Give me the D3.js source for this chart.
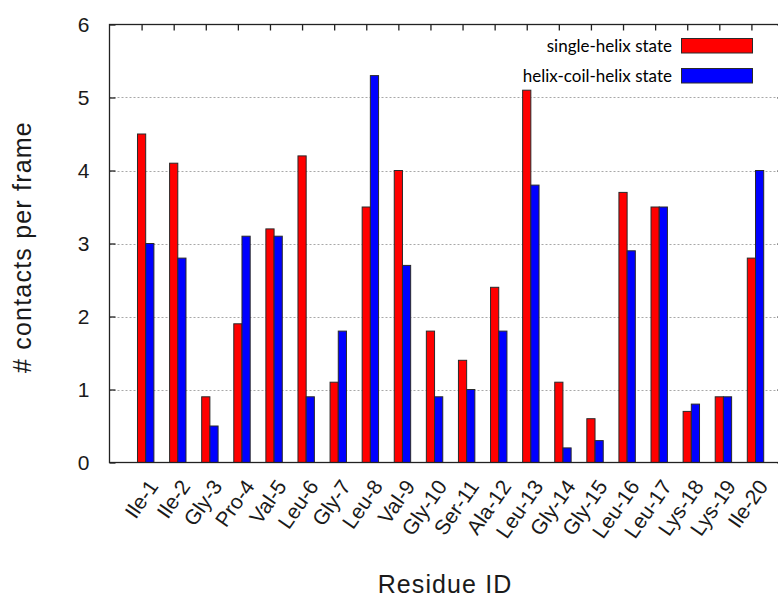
<!DOCTYPE html>
<html>
<head>
<meta charset="utf-8">
<script src="https://cdn.jsdelivr.net/npm/d3@7"></script>
<style>
  html, body { margin: 0; padding: 0; background: #fff; }
  svg { display: block; }
</style>
</head>
<body>
<svg id="chart" width="778" height="598"></svg>
<script>
// Residue contact counts for the two conformational states
const residues = ["Ile-1", "Ile-2", "Gly-3", "Pro-4", "Val-5", "Leu-6", "Gly-7", "Leu-8", "Val-9", "Gly-10",
                  "Ser-11", "Ala-12", "Leu-13", "Gly-14", "Gly-15", "Leu-16", "Leu-17", "Lys-18", "Lys-19", "Ile-20"];
const singleHelix = [4.5, 4.1, 0.9, 1.9, 3.2, 4.2, 1.1, 3.5, 4.0, 1.8, 1.4, 2.4, 5.1, 1.1, 0.6, 3.7, 3.5, 0.7, 0.9, 2.8];
const helixCoilHelix = [3.0, 2.8, 0.5, 3.1, 3.1, 0.9, 1.8, 5.3, 2.7, 0.9, 1.0, 1.8, 3.8, 0.2, 0.3, 2.9, 3.5, 0.8, 0.9, 4.0];
const yTicks = [0, 1, 2, 3, 4, 5, 6];
const seriesNames = ["single-helix state", "helix-coil-helix state"];
const seriesColors = ["#ff0000", "#0000ff"];

const svg = d3.select("#chart");
const plotL = 109.5, plotR = 783.5, plotT = 24.5, plotB = 462.5;

const x = d3.scaleLinear().domain([0, residues.length + 1]).range([plotL, plotR]);
const y = d3.scaleLinear().domain([0, 6]).range([plotB, plotT]);
const barW = 8.2;
const textColor = "#1a1a1a";
const sans = "'Liberation Sans', Arial, sans-serif";

// horizontal dotted grid
svg.append("g")
  .selectAll("line")
  .data(yTicks.filter(t => t > 0 && t < 6))
  .join("line")
  .attr("x1", plotL).attr("x2", plotR)
  .attr("y1", d => Math.round(y(d)) + 0.5).attr("y2", d => Math.round(y(d)) + 0.5)
  .attr("stroke", "#a8a8a8").attr("stroke-width", 1)
  .attr("stroke-dasharray", "2,2");

// bars
const series = [singleHelix, helixCoilHelix];
series.forEach((vals, s) => {
  svg.append("g")
    .selectAll("rect")
    .data(vals)
    .join("rect")
    .attr("x", (d, i) => x(i + 1) - barW / 2 + s * barW)
    .attr("y", d => y(d))
    .attr("width", barW)
    .attr("height", d => y(0) - y(d))
    .attr("fill", seriesColors[s])
    .attr("stroke", "#2a2a2a")
    .attr("stroke-width", 1);
});

// frame with inward ticks
const axisColor = "#222";
svg.append("rect")
  .attr("x", plotL).attr("y", plotT)
  .attr("width", plotR - plotL).attr("height", plotB - plotT)
  .attr("fill", "none").attr("stroke", axisColor).attr("stroke-width", 1.3);

const yAxisL = d3.axisLeft(y).tickValues(yTicks).tickFormat(d3.format("d"))
  .tickSizeInner(-6).tickSizeOuter(0).tickPadding(20);
const gyl = svg.append("g").attr("transform", `translate(${plotL},0)`).call(yAxisL);
gyl.select(".domain").remove();
gyl.selectAll("line").attr("stroke", axisColor).attr("stroke-width", 1.3);
gyl.selectAll("text")
  .attr("font-family", sans)
  .attr("font-size", 21).attr("fill", textColor);

const yAxisR = d3.axisRight(y).tickValues(yTicks).tickSizeInner(-6).tickSizeOuter(0).tickFormat("");
const gyr = svg.append("g").attr("transform", `translate(${plotR},0)`).call(yAxisR);
gyr.select(".domain").remove();
gyr.selectAll("line").attr("stroke", axisColor).attr("stroke-width", 1.3);

const tickIdx = residues.map((r, i) => i + 1);
const xAxisTop = d3.axisTop(x).tickValues(tickIdx).tickSizeInner(-6).tickSizeOuter(0).tickFormat("");
const gxt = svg.append("g").attr("transform", `translate(0,${plotT})`).call(xAxisTop);
gxt.select(".domain").remove();
gxt.selectAll("line").attr("stroke", axisColor).attr("stroke-width", 1.3);

// rotated residue labels
const xAxisBottom = d3.axisBottom(x).tickValues(tickIdx).tickSize(0).tickFormat((d) => residues[d - 1]);
const gxb = svg.append("g").attr("transform", `translate(0,${plotB})`).call(xAxisBottom);
gxb.select(".domain").remove();
gxb.selectAll("text")
  .attr("font-family", sans)
  .attr("font-size", 21).attr("fill", textColor)
  .attr("text-anchor", "end")
  .attr("dy", null).attr("y", null)
  .attr("transform", "translate(17,24) rotate(-55)");

// axis titles
svg.append("text")
  .attr("x", 445).attr("y", 593)
  .attr("text-anchor", "middle")
  .attr("font-family", sans)
  .attr("font-size", 25).attr("letter-spacing", 1.1).attr("fill", textColor)
  .text("Residue ID");

svg.append("text")
  .attr("transform", "translate(31,247) rotate(-90)")
  .attr("text-anchor", "middle")
  .attr("font-family", sans)
  .attr("font-size", 25).attr("letter-spacing", 1.2).attr("fill", textColor)
  .text("# contacts per frame");

// legend
const legend = svg.append("g");
seriesNames.forEach((name, s) => {
  const cy = 45.5 + s * 30;
  legend.append("rect")
    .attr("x", 681.5).attr("y", cy - 7)
    .attr("width", 71).attr("height", 14.5)
    .attr("fill", seriesColors[s]).attr("stroke", "#2a2a2a").attr("stroke-width", 1);
  legend.append("text")
    .attr("x", 672).attr("y", cy + 6)
    .attr("text-anchor", "end")
    .attr("font-family", "Lato, 'Open Sans', sans-serif")
    .attr("font-size", 17).attr("fill", "#000")
    .text(name);
});
</script>
</body>
</html>
